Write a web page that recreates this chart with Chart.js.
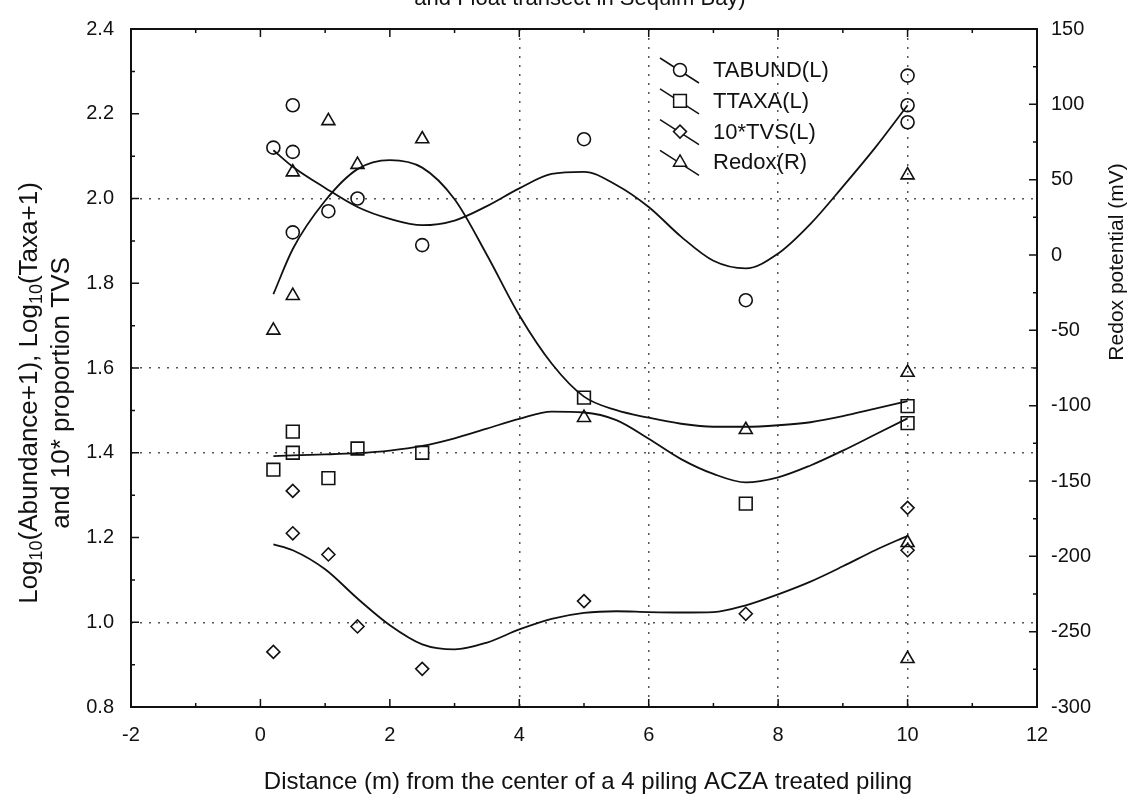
<!DOCTYPE html>
<html lang="en">
  <head>
    <meta charset="UTF-8" />
    <title>Sequim Bay transect</title>
    <script src="https://cdn.jsdelivr.net/npm/chart.js"></script>
    <style>
      html,
      body {
        margin: 0;
        padding: 0;
        background: #fff;
      }
      #wrap {
        width: 1139px;
        height: 798px;
      }
    </style>
  </head>

  <body>
    <div id="wrap"><canvas id="transectChart" width="1139" height="798"></canvas></div>

    <script>
      // measured samples, distance (m) and value
      const tabundDist = [0.2, 0.5, 0.5, 0.5, 1.05, 1.5, 2.5, 5, 7.5, 10, 10, 10];
      const tabundVal = [2.12, 2.22, 2.11, 1.92, 1.97, 2.0, 1.89, 2.14, 1.76, 2.29, 2.22, 2.18];
      const ttaxaDist = [0.2, 0.5, 0.5, 1.05, 1.5, 2.5, 5, 7.5, 10, 10];
      const ttaxaVal = [1.36, 1.45, 1.4, 1.34, 1.41, 1.4, 1.53, 1.28, 1.51, 1.47];
      const tvsDist = [0.2, 0.5, 0.5, 1.05, 1.5, 2.5, 5, 7.5, 10, 10];
      const tvsVal = [0.93, 1.31, 1.21, 1.16, 0.99, 0.89, 1.05, 1.02, 1.27, 1.17];
      const redoxDist = [0.2, 0.5, 0.5, 1.05, 1.5, 2.5, 5, 7.5, 10, 10, 10, 10];
      const redoxVal = [-50, -27, 55, 89, 60, 77, -108, -116, 53, -78, -191, -268];

      // smoothed fit curves
      const fitDist = [0.2, 0.5, 1, 1.5, 2, 2.5, 3, 3.5, 4, 4.5, 5, 5.5, 6, 6.5, 7, 7.5, 8, 8.5, 9, 9.5, 10];
      const tabundFit = [2.114, 2.075, 2.025, 1.98, 1.952, 1.937, 1.948, 1.982, 2.024, 2.058, 2.063, 2.032, 1.98, 1.91, 1.853, 1.835, 1.87, 1.94, 2.028, 2.12, 2.22];
      const ttaxaFit = [1.392, 1.394, 1.396, 1.399, 1.405, 1.416, 1.434, 1.457, 1.48, 1.497, 1.495, 1.477, 1.433, 1.385, 1.35, 1.33, 1.342, 1.37, 1.405, 1.443, 1.481];
      const tvsFit = [1.184, 1.17, 1.125, 1.056, 0.993, 0.948, 0.936, 0.952, 0.983, 1.008, 1.022, 1.026, 1.024, 1.023, 1.024, 1.04, 1.066, 1.096, 1.132, 1.17, 1.204];
      const redoxFit = [-26, 4, 36, 57, 63, 58, 37, 0, -40, -72, -94, -103, -108, -112, -114, -114, -113, -111, -107, -102, -97];

      const seriesLabels = ["TABUND(L)", "TTAXA(L)", "10*TVS(L)", "Redox(R)"];
      const xTicks = [-2, 0, 2, 4, 6, 8, 10, 12];

      const ink = "#111";
      const font = "'Liberation Sans', Arial, sans-serif";

      function pts(xs, ys) {
        return xs.map((x, i) => ({ x: x, y: ys[i] }));
      }

      function markers(label, xs, ys, style, radius, axis) {
        return {
          label: label,
          data: pts(xs, ys),
          yAxisID: axis,
          showLine: false,
          pointStyle: style,
          pointRadius: radius,
          pointBorderWidth: 1.6,
          pointBorderColor: ink,
          pointBackgroundColor: "rgba(255,255,255,0)",
          isMarker: true,
        };
      }

      function fitLine(ys, axis) {
        return {
          data: pts(fitDist, ys),
          yAxisID: axis,
          showLine: true,
          borderColor: ink,
          borderWidth: 1.8,
          pointRadius: 0,
          cubicInterpolationMode: "monotone",
        };
      }

      function near(a, list) {
        return list.some((b) => Math.abs(a - b) < 1e-6);
      }

      // frame, inward ticks, legend and axis titles
      const decorations = {
        id: "decorations",
        afterDraw(chart) {
          const ctx = chart.ctx;
          const a = chart.chartArea;
          const s = chart.scales;
          ctx.save();
          ctx.strokeStyle = ink;
          ctx.lineWidth = 2;
          ctx.strokeRect(a.left, a.top, a.right - a.left, a.bottom - a.top);

          ctx.lineWidth = 1.5;
          ctx.beginPath();
          const marks = (scale, draw) => {
            const t = scale.ticks;
            for (let i = 0; i < t.length; i++) {
              draw(scale.getPixelForValue(t[i].value), 8);
              if (i < t.length - 1) {
                draw(scale.getPixelForValue((t[i].value + t[i + 1].value) / 2), 4);
              }
            }
          };
          marks(s.y, (p, len) => {
            ctx.moveTo(a.left, p);
            ctx.lineTo(a.left + len, p);
          });
          marks(s.y1, (p, len) => {
            ctx.moveTo(a.right, p);
            ctx.lineTo(a.right - len, p);
          });
          marks(s.x, (p, len) => {
            ctx.moveTo(p, a.bottom);
            ctx.lineTo(p, a.bottom - len);
            ctx.moveTo(p, a.top);
            ctx.lineTo(p, a.top + len);
          });
          ctx.stroke();

          // legend: diagonal line through the marker
          ctx.font = "22px " + font;
          ctx.fillStyle = ink;
          ctx.textBaseline = "middle";
          ctx.textAlign = "left";
          chart.data.datasets
            .filter((d) => d.isMarker)
            .forEach((d, i) => {
              const mx = 680;
              const my = 70 + i * 30.8;
              ctx.lineWidth = 1.5;
              ctx.beginPath();
              ctx.moveTo(mx - 20, my - 12);
              ctx.lineTo(mx + 19, my + 13);
              ctx.stroke();
              ctx.fillStyle = "#fff";
              Chart.helpers.drawPoint(
                ctx,
                { pointStyle: d.pointStyle, radius: d.pointRadius, rotation: 0, borderWidth: 1.6 },
                mx,
                my
              );
              ctx.fillStyle = ink;
              ctx.fillText(d.label, 713, my + 1);
            });

          // cut-off title line at the very top
          ctx.textAlign = "center";
          ctx.textBaseline = "alphabetic";
          ctx.fillText("and Float transect in Sequim Bay)", 580, 5);

          // x title
          ctx.font = "24px " + font;
          ctx.fillText("Distance (m) from the center of a 4 piling ACZA treated piling", 588, 789);

          // right title
          ctx.save();
          ctx.translate(1117, 262);
          ctx.rotate(-Math.PI / 2);
          ctx.textBaseline = "middle";
          ctx.font = "21px " + font;
          ctx.fillText("Redox potential (mV)", 0, 0);
          ctx.restore();

          // left title with subscripts
          const rows = [
            { x: 30, parts: [["Log", 0], ["10", 1], ["(Abundance+1), Log", 0], ["10", 1], ["(Taxa+1)", 0]] },
            { x: 62, parts: [["and 10* proportion TVS", 0]] },
          ];
          rows.forEach((row) => {
            ctx.save();
            ctx.translate(row.x, 393);
            ctx.rotate(-Math.PI / 2);
            ctx.textAlign = "left";
            ctx.textBaseline = "middle";
            let total = 0;
            row.parts.forEach((p) => {
              ctx.font = (p[1] ? "18px " : "26px ") + font;
              total += ctx.measureText(p[0]).width;
            });
            let cx = -total / 2;
            row.parts.forEach((p) => {
              ctx.font = (p[1] ? "18px " : "26px ") + font;
              ctx.fillText(p[0], cx, p[1] ? 7 : 0);
              cx += ctx.measureText(p[0]).width;
            });
            ctx.restore();
          });
          ctx.restore();
        },
      };

      new Chart(document.getElementById("transectChart").getContext("2d"), {
        type: "scatter",
        data: {
          datasets: [
            markers(seriesLabels[0], tabundDist, tabundVal, "circle", 6.5, "y"),
            markers(seriesLabels[1], ttaxaDist, ttaxaVal, "rect", 9, "y"),
            markers(seriesLabels[2], tvsDist, tvsVal, "rectRot", 6.5, "y"),
            markers(seriesLabels[3], redoxDist, redoxVal, "triangle", 7.5, "y1"),
            fitLine(tabundFit, "y"),
            fitLine(ttaxaFit, "y"),
            fitLine(tvsFit, "y"),
            fitLine(redoxFit, "y1"),
          ],
        },
        options: {
          responsive: false,
          animation: false,
          devicePixelRatio: 1,
          layout: { padding: { top: 21, left: 0, right: 0, bottom: 0 } },
          plugins: { legend: { display: false }, tooltip: { enabled: false } },
          scales: {
            x: {
              type: "linear",
              min: -2,
              max: 12,
              afterBuildTicks: (scale) => {
                scale.ticks = xTicks.map((v) => ({ value: v }));
              },
              afterFit: (scale) => {
                scale.height = 91;
              },
              ticks: { color: ink, font: { family: font, size: 20 }, padding: 16 },
              grid: {
                drawTicks: false,
                lineWidth: 1.5,
                color: (c) => (c.tick && near(c.tick.value, [4, 6, 8, 10]) ? "#555" : "rgba(0,0,0,0)"),
              },
              border: { display: false, dash: [2, 7] },
            },
            y: {
              position: "left",
              min: 0.8,
              max: 2.4,
              afterFit: (scale) => {
                scale.width = 131;
              },
              ticks: {
                stepSize: 0.2,
                color: ink,
                font: { family: font, size: 20 },
                padding: 17,
                callback: (v) => Number(v).toFixed(1),
              },
              grid: {
                drawTicks: false,
                lineWidth: 1.5,
                color: (c) => (c.tick && near(c.tick.value, [2.0, 1.6, 1.4, 1.0]) ? "#555" : "rgba(0,0,0,0)"),
              },
              border: { display: false, dash: [2, 7] },
            },
            y1: {
              position: "right",
              min: -300,
              max: 150,
              afterFit: (scale) => {
                scale.width = 102;
              },
              ticks: { stepSize: 50, color: ink, font: { family: font, size: 20 }, padding: 14 },
              grid: { display: false, drawTicks: false },
              border: { display: false },
            },
          },
        },
        plugins: [decorations],
      });
    </script>
  </body>
</html>
